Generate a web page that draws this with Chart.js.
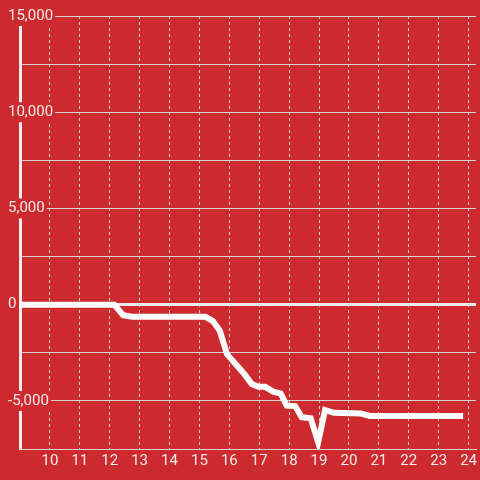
<!DOCTYPE html>
<html>
<head>
<meta charset="utf-8">
<script src="https://cdn.jsdelivr.net/npm/chart.js@4/dist/chart.umd.min.js"></script>
<style>
  html, body { margin: 0; padding: 0; background: #cc2a2f; }
  #wrap { width: 480px; height: 480px; }
</style>
</head>
<body>
<div id="wrap"><canvas id="chart"></canvas></div>
<script>
// hour of day and running value
const hours  = [8.5, 12.15, 12.45, 12.75, 15.2, 15.45, 15.68, 15.92, 16.5, 16.75, 16.97, 17.2, 17.47, 17.72, 17.92, 18.2, 18.42, 18.72, 18.97, 19.2, 19.5, 20.4, 20.7, 23.82];
const values = [0, 0, -550, -630, -630, -850, -1350, -2570, -3600, -4120, -4270, -4270, -4520, -4620, -5250, -5270, -5850, -5900, -7150, -5480, -5620, -5660, -5780, -5780];

const xTicks = [10, 11, 12, 13, 14, 15, 16, 17, 18, 19, 20, 21, 22, 23, 24];
const yTicks = [-7500, -5000, -2500, 0, 2500, 5000, 7500, 10000, 12500, 15000];
const yLabelEvery = 5000;

const RED = '#cc2a2f';
const TEXT = '#f0eaea';
const GRID = '#d4d4d4';

Chart.defaults.font.family = 'Roboto';
Chart.defaults.font.size = 15;

new Chart(document.getElementById('chart'), {
    type: 'line',
    data: {
        datasets: [{
            data: hours.map((h, i) => ({ x: h, y: values[i] })),
            borderColor: '#ffffff',
            borderWidth: 6,
            pointRadius: 0,
            tension: 0,
            fill: false
        }]
    },
    options: {
        responsive: true,
        maintainAspectRatio: false,
        animation: false,
        layout: { padding: { left: 6, right: 0, top: 16, bottom: 7 } },
        plugins: {
            legend: { display: false },
            tooltip: { enabled: false }
        },
        scales: {
            x: {
                type: 'linear',
                min: 9,
                max: 24.25,
                afterBuildTicks: (scale) => {
                    scale.ticks = xTicks.map(v => ({ value: v }));
                },
                grid: { color: GRID, lineWidth: 1, drawTicks: false },
                border: { color: GRID, width: 1, dash: [3, 3] },
                ticks: {
                    color: TEXT,
                    padding: 3,
                    maxRotation: 0,
                    autoSkip: false,
                    callback: (v) => String(v)
                }
            },
            y: {
                min: -7500,
                max: 15000,
                afterBuildTicks: (scale) => {
                    scale.ticks = yTicks.map(v => ({ value: v }));
                },
                afterFit: (scale) => { scale.width = 14; },
                grid: {
                    drawTicks: false,
                    color: (ctx) => ctx.tick && ctx.tick.value === 0 ? '#eeeeee' : GRID,
                    lineWidth: (ctx) => ctx.tick && ctx.tick.value === 0 ? 3 : 1
                },
                border: { color: '#eeeeee', width: 3 },
                ticks: {
                    color: TEXT,
                    mirror: true,
                    padding: -12,
                    crossAlign: 'near',
                    autoSkip: false,
                    showLabelBackdrop: true,
                    backdropColor: RED,
                    backdropPadding: { top: 1, bottom: 1, left: 2, right: 2 },
                    callback: (v) => v % yLabelEvery === 0 ? v.toLocaleString('en-US') : ''
                }
            }
        }
    }
});
</script>
</body>
</html>
